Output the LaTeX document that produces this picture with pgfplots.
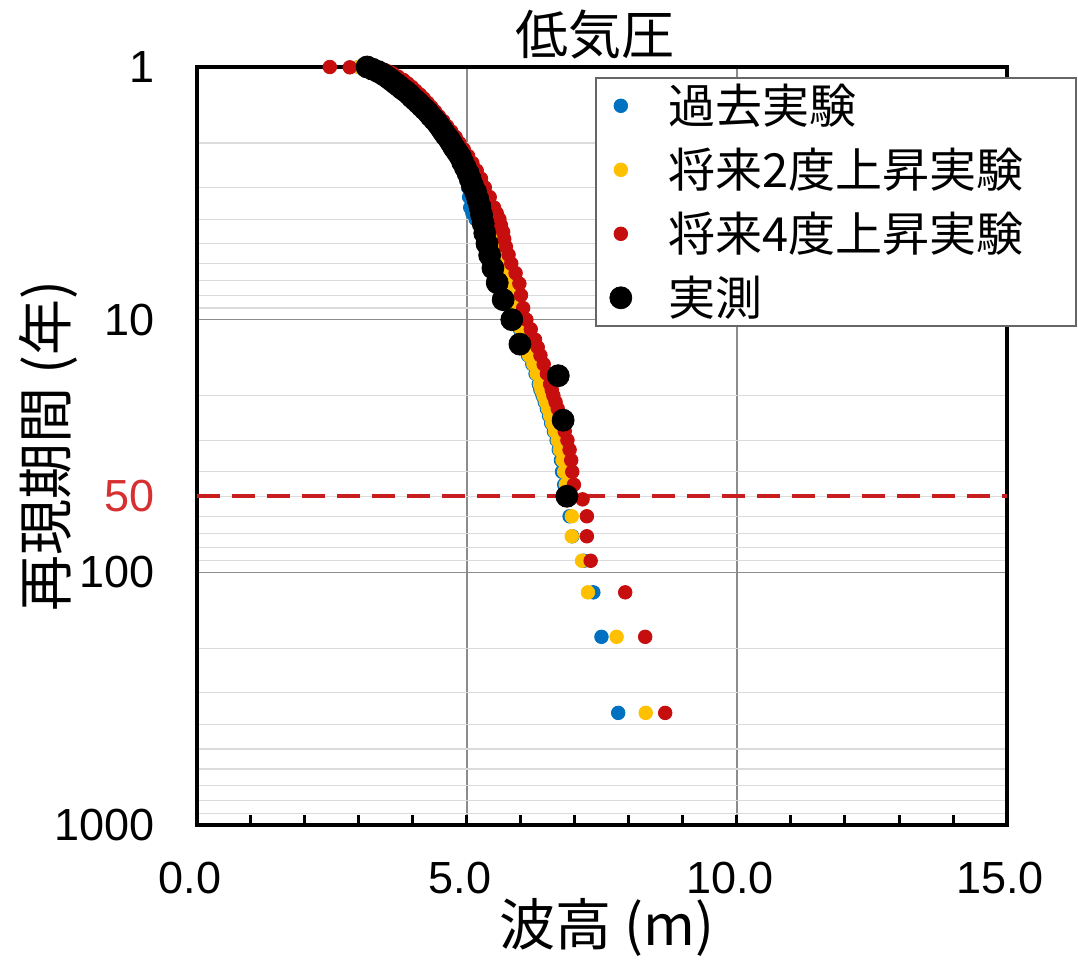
\documentclass[border=0pt]{standalone}
\usepackage{fontspec}
\setmainfont{Liberation Sans}
\newfontfamily\cjk{Noto Sans CJK JP}
\usepackage{pgfplots}
\pgfplotsset{compat=1.18}
\definecolor{cblue}{RGB}{0,112,192}
\definecolor{cyellow}{RGB}{255,192,0}
\definecolor{cred}{RGB}{198,14,14}
\definecolor{dashred}{RGB}{200,30,30}
\definecolor{lblred}{RGB}{214,48,48}
\begin{document}
\begin{tikzpicture}
\useasboundingbox (-98.5pt,-68.5pt) rectangle (440.5pt,412.5pt);
\begin{axis}[
  scale only axis, width=405pt, height=379pt,
  at={(0,0)}, anchor=south west,
  xmin=0, xmax=15, ymin=1, ymax=1000,
  ymode=log, y dir=reverse,
  clip=false,
  axis line style={black, line width=2pt},
  xtick={0,5,10,15}, xticklabels={0.0,5.0,10.0,15.0},
  minor xtick={1,2,3,4,6,7,8,9,11,12,13,14},
  xtick pos=left, tick align=inside,
  major tick length=5pt, minor tick length=5pt,
  xtick style={black, line width=1.5pt},
  ytick={1,10,100,1000}, yticklabels={1,10,100,1000},
  minor ytick={2,3,4,5,6,7,8,9,20,30,40,50,60,70,80,90,200,300,400,500,600,700,800,900},
  ytick style={draw=none}, minor y tick style={draw=none},
  xmajorgrids=true, ymajorgrids=true, yminorgrids=true,
  major grid style={black!45, line width=0.6pt},
  minor grid style={black!14, line width=0.6pt},
  extra y ticks={50}, extra y tick labels={50},
  extra y tick style={grid=none, yticklabel style={text=lblred}},
  tick label style={font=\fontsize{22.5}{27}\selectfont},
  yticklabel style={anchor=east, inner sep=0pt, xshift=-21pt},
  xticklabel style={anchor=north, inner sep=0pt, yshift=-18.5pt, xshift=-3.5pt},
  title={\cjk 低気圧},
  title style={font=\fontsize{26.5}{30}\selectfont, at={(axis description cs:0.491,1.0008)}, anchor=base, inner sep=0pt},
  xlabel={\cjk 波高 (m)},
  xlabel style={font=\fontsize{28}{32}\selectfont, at={(axis description cs:0.506,-0.1596)}, anchor=base, inner sep=0pt},
  ylabel={\cjk 再現期間 (年)},
  ylabel style={font=\fontsize{28}{32}\selectfont, at={(axis description cs:-0.161,0.5)}, anchor=base, inner sep=0pt},
  legend style={
    at={(axis description cs:0.4914,0.9868)}, anchor=north west,
    draw=black!60, line width=0.8pt, fill=white,
    inner xsep=7pt, inner ysep=1pt,
    row sep=6pt, column sep=18.5pt,
    font=\cjk\fontsize{23.5}{28}\selectfont,
    nodes={anchor=west, inner sep=0pt, text width=196.5pt, align=left, text height=22pt, text depth=4pt},
  },
  legend image code/.code={\draw[#1] plot coordinates {(0pt,0pt)};},
]
\addplot[forget plot, color=dashred, line width=2pt, dash pattern=on 11.5pt off 6pt] coordinates {(0,50) (15,50)};

\addplot[only marks, mark=*, mark size=3.4pt, draw=cblue, fill=cblue, mark options={line width=0.4pt}] coordinates {
(7.80,360) (7.49,180) (7.34,120) (7.16,90) (6.95,72) (6.90,60) (6.85,51.43) (6.80,45) (6.76,40) (6.74,36) (6.70,32.73) (6.66,30) (6.61,27.69) (6.56,25.71) (6.52,24) (6.48,22.5) (6.44,21.18) (6.40,20) (6.36,18.95) (6.33,18) (6.27,16.36) (6.21,15) (6.13,13.85) (6.08,12.86) (6.04,12) (5.98,10.91) (5.92,10) (5.84,9) (5.76,8) (5.68,7.2) (5.61,6.545) (5.54,6) (5.48,5.538) (5.42,5.143) (5.36,4.8) (5.30,4.5) (5.24,4.235) (5.16,4) (5.10,3.789) (5.06,3.6) (5.04,3.273) (5.02,3) (4.99,2.769) (4.95,2.571) (4.88,2.4) (4.82,2.25) (4.74,2.118) (4.66,2) (4.60,1.895) (4.51,1.8) (4.44,1.714) (4.37,1.636) (4.28,1.565) (4.20,1.5) (4.13,1.44) (4.05,1.385) (3.98,1.333) (3.90,1.286) (3.82,1.241) (3.72,1.2) (3.64,1.161) (3.56,1.125) (3.48,1.091) (3.40,1.059) (3.34,1.043) (3.30,1.029) (3.24,1.014) (3.18,1.006) (3.10,1.003) (3.00,1)
};
\addlegendentry{過去実験}

\addplot[only marks, mark=*, mark size=3.4pt, draw=cyellow, fill=cyellow, mark options={line width=0.4pt}] coordinates {
(8.31,360) (7.77,180) (7.24,120) (7.13,90) (6.94,72) (6.94,60) (6.86,51.43) (6.83,45) (6.80,40) (6.77,36) (6.72,32.73) (6.68,30) (6.63,27.69) (6.58,25.71) (6.54,24) (6.50,22.5) (6.46,21.18) (6.42,20) (6.38,18.95) (6.35,18) (6.29,16.36) (6.23,15) (6.15,13.85) (6.10,12.86) (6.06,12) (6.00,10.91) (5.95,10) (5.90,9) (5.82,8) (5.75,7.2) (5.68,6.545) (5.62,6) (5.56,5.538) (5.50,5.143) (5.45,4.8) (5.40,4.5) (5.35,4.235) (5.30,4) (5.26,3.789) (5.22,3.6) (5.16,3.273) (5.10,3) (5.05,2.769) (4.99,2.571) (4.92,2.4) (4.86,2.25) (4.78,2.118) (4.71,2) (4.64,1.895) (4.56,1.8) (4.48,1.714) (4.41,1.636) (4.32,1.565) (4.24,1.5) (4.17,1.44) (4.09,1.385) (4.02,1.333) (3.94,1.286) (3.86,1.241) (3.77,1.2) (3.68,1.161) (3.60,1.125) (3.52,1.091) (3.43,1.059) (3.37,1.043) (3.32,1.029) (3.26,1.014) (3.20,1.006) (3.12,1.003) (3.00,1)
};
\addlegendentry{将来2度上昇実験}

\addplot[only marks, mark=*, mark size=3.4pt, draw=cred, fill=cred, mark options={line width=0.4pt}] coordinates {
(8.67,360) (8.30,180) (7.93,120) (7.29,90) (7.22,72) (7.22,60) (7.14,51.43) (6.98,45) (6.95,40) (6.93,36) (6.90,32.73) (6.86,30) (6.81,27.69) (6.76,25.71) (6.72,24) (6.68,22.5) (6.64,21.18) (6.60,20) (6.57,18.95) (6.54,18) (6.48,16.36) (6.42,15) (6.36,13.85) (6.31,12.86) (6.26,12) (6.18,10.91) (6.10,10) (6.04,9) (6.00,8) (5.97,7.2) (5.90,6.545) (5.82,6) (5.77,5.538) (5.72,5.143) (5.69,4.8) (5.67,4.5) (5.63,4.235) (5.60,4) (5.55,3.789) (5.50,3.6) (5.42,3.273) (5.33,3) (5.26,2.769) (5.18,2.571) (5.10,2.4) (5.02,2.25) (4.94,2.118) (4.86,2) (4.79,1.895) (4.71,1.8) (4.63,1.714) (4.56,1.636) (4.48,1.565) (4.41,1.5) (4.34,1.44) (4.27,1.385) (4.20,1.333) (4.13,1.286) (4.05,1.241) (3.98,1.2) (3.90,1.161) (3.82,1.125) (3.72,1.091) (3.62,1.059) (3.55,1.043) (3.48,1.029) (3.40,1.014) (3.30,1.006) (2.83,1.003) (2.46,1)
};
\addlegendentry{将来4度上昇実験}

\addplot[only marks, mark=*, mark size=5.5pt, draw=black, fill=black, mark options={line width=0.4pt}] coordinates {
(6.85,50) (6.78,25) (6.69,16.67) (5.98,12.5) (5.83,10) (5.67,8.333) (5.56,7.143) (5.48,6.25) (5.42,5.556) (5.37,5) (5.33,4.545) (5.30,4.167) (5.27,3.846) (5.24,3.571) (5.20,3.333) (5.16,3.125) (5.10,2.941) (5.06,2.778) (5.02,2.632) (4.97,2.5) (4.92,2.381) (4.88,2.273) (4.82,2.174) (4.76,2.083) (4.71,2) (4.66,1.923) (4.60,1.852) (4.55,1.786) (4.50,1.724) (4.45,1.667) (4.39,1.613) (4.33,1.5625) (4.28,1.515) (4.22,1.471) (4.16,1.429) (4.10,1.389) (4.04,1.351) (3.98,1.316) (3.93,1.282) (3.87,1.25) (3.80,1.220) (3.74,1.190) (3.68,1.163) (3.62,1.136) (3.56,1.111) (3.50,1.087) (3.43,1.064) (3.35,1.042) (3.25,1.020) (3.15,1)
};
\addlegendentry{実測}
\end{axis}
\end{tikzpicture}
\end{document}
